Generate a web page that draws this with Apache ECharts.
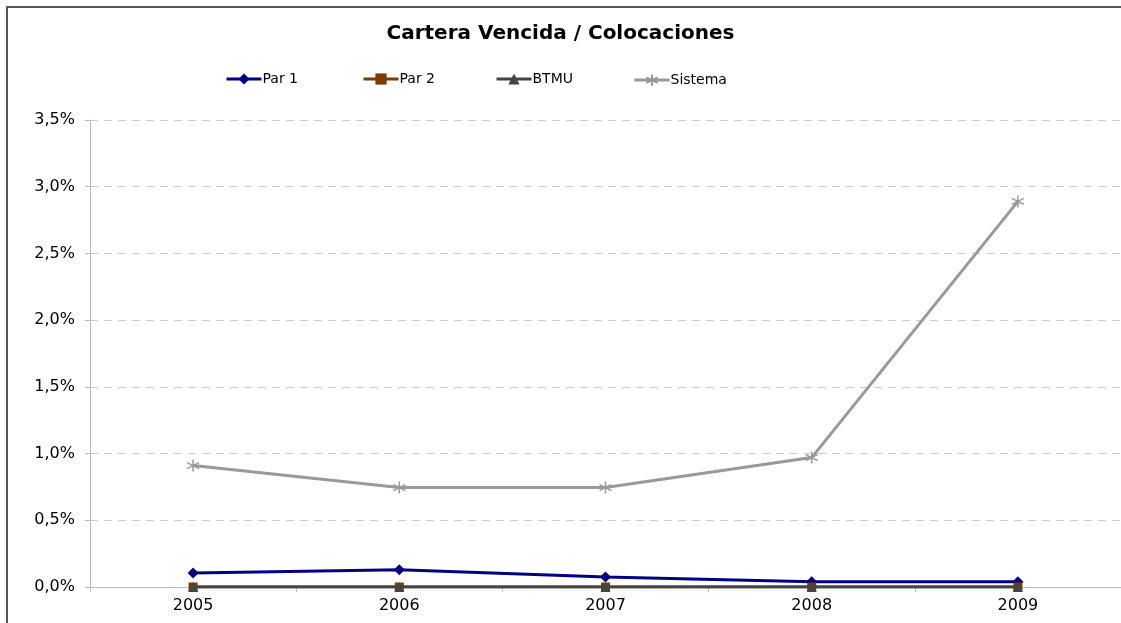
<!DOCTYPE html>
<html>
<head>
<meta charset="utf-8">
<script src="https://cdn.jsdelivr.net/npm/echarts@6/dist/echarts.min.js"></script>
<style>html,body{margin:0;padding:0;background:#fff}#c{width:1121px;height:623px}</style>
</head>
<body>
<div id="c"></div>
<script>
var years = ['2005', '2006', '2007', '2008', '2009'];
var par1 = [0.105, 0.13, 0.075, 0.04, 0.04];
var par2 = [0, 0, 0, 0, 0];
var btmu = [0, 0, 0, 0, 0];
var sistema = [0.91, 0.745, 0.745, 0.97, 2.89];
var seriesNames = ['Par 1', 'Par 2', 'BTMU', 'Sistema'];

var FONT = 'DejaVu Sans';
var star = 'path://M5,0L5,10M0.67,2.5L9.33,7.5M0.67,7.5L9.33,2.5';

var chart = echarts.init(document.getElementById('c'), null, {renderer: 'canvas'});

function legendAt(name, left) {
  return {
    data: [name], left: left, top: 72, itemWidth: 35, itemHeight: 14, itemGap: 0,
    lineStyle: {width: 3},
    textStyle: {fontFamily: FONT, fontSize: 14, color: '#000', padding: [0, 0, 0, -4]},
    padding: 0
  };
}

chart.setOption({
  animation: false,
  backgroundColor: '#fff',
  title: {
    text: 'Cartera Vencida / Colocaciones', left: 'center', top: 19,
    textStyle: {fontFamily: FONT, fontSize: 20, fontWeight: 'bold', color: '#000'}
  },
  graphic: [{
    type: 'rect', shape: {x: 7, y: 7, width: 1300, height: 800},
    style: {fill: 'none', stroke: '#555', lineWidth: 2}, silent: true
  }],
  legend: [
    legendAt('Par 1', 225), legendAt('Par 2', 362),
    legendAt('BTMU', 495), legendAt('Sistema', 633)
  ],
  grid: {left: 90, right: 0, top: 120, bottom: 36, containLabel: false},
  xAxis: {
    type: 'category', data: years, boundaryGap: true,
    axisLine: {lineStyle: {color: '#bbb', width: 1}},
    axisTick: {show: true, alignWithLabel: false, length: 5, inside: false, lineStyle: {color: '#bbb'}},
    axisLabel: {fontFamily: FONT, fontSize: 16, color: '#000', margin: 11}
  },
  yAxis: {
    type: 'value', min: 0, max: 3.5, interval: 0.5,
    axisLine: {show: true, lineStyle: {color: '#bbb', width: 1}},
    axisTick: {show: true, length: 5, lineStyle: {color: '#bbb'}},
    axisLabel: {fontFamily: FONT, fontSize: 16, color: '#000', margin: 15,
      formatter: function (v) { return v.toFixed(1).replace('.', ',') + '%'; }},
    splitLine: {show: true, lineStyle: {color: '#ccc', type: [8, 6], width: 1}}
  },
  series: [
    {name: 'Par 1', type: 'line', data: par1, symbol: 'diamond', symbolSize: 11,
      lineStyle: {color: '#000080', width: 3}, itemStyle: {color: '#000080'}, z: 2},
    {name: 'Par 2', type: 'line', data: par2, symbol: 'rect', symbolSize: 9,
      lineStyle: {color: '#7a3d00', width: 3}, itemStyle: {color: '#7a3d00'}, z: 3},
    {name: 'BTMU', type: 'line', data: btmu, symbol: 'triangle', symbolSize: 10,
      lineStyle: {color: '#444', width: 3}, itemStyle: {color: '#444'}, z: 4},
    {name: 'Sistema', type: 'line', data: sistema, symbol: star, symbolSize: 12,
      lineStyle: {color: '#999', width: 3}, itemStyle: {color: 'none', borderColor: '#999', borderWidth: 1.5}, z: 5}
  ]
});
</script>
</body>
</html>
